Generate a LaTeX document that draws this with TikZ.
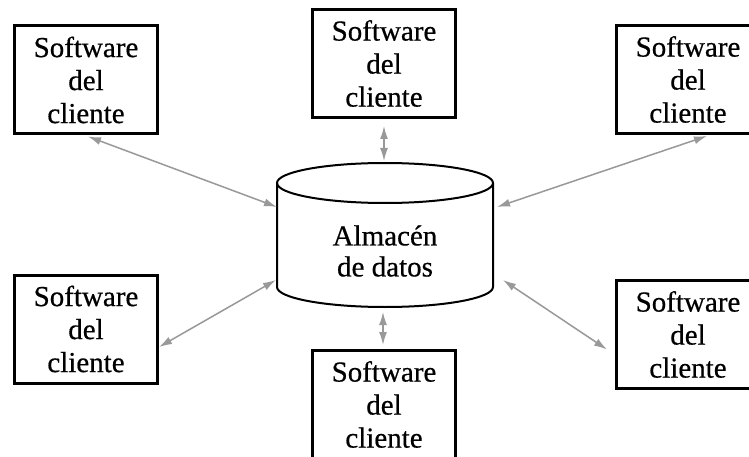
\documentclass[tikz,border=0pt]{standalone}
\usepackage{fontspec}
\setmainfont[FakeBold=0.5]{Liberation Serif}
\usetikzlibrary{arrows.meta}
\begin{document}
\begin{tikzpicture}[x=1pt,y=-1pt,
  client/.style={draw, line width=3pt, minimum width=143pt, minimum height=108pt,
    inner sep=0pt, align=center, font=\fontsize{29}{33}\selectfont},
  storetext/.style={inner sep=0pt, align=center, font=\fontsize{29}{31}\selectfont},
  cyl/.style={line width=2pt},
  link/.style={draw=gray!80, line width=1.5pt,
    {Latex[length=13pt,width=8pt]}-{Latex[length=13pt,width=8pt]}}]
  \useasboundingbox (0,0) rectangle (749,457);
  \clip (0,0) rectangle (749,457);
  \fill[white] (0,0) rectangle (749,457);

  % client boxes
  \node[client] (tl) at (86,80) {Software\\del\\cliente};
  \node[client] (tc) at (384,63.5) {Software\\del\\cliente};
  \node[client] (tr) at (688,79.5) {Software\\del\\cliente};
  \node[client] (ml) at (86,329) {Software\\del\\cliente};
  \node[client] (bc) at (384,404.5) {Software\\del\\cliente};
  \node[client] (br) at (688,334.5) {Software\\del\\cliente};

  % data store cylinder
  \draw[cyl] (385,183) ellipse [x radius=108pt, y radius=20pt];
  \draw[cyl] (277,183) -- (277,287)
    arc [start angle=180, end angle=360, x radius=108pt, y radius=20pt] -- (493,183);
  \node[storetext] (store) at (385,251) {Almacén\\de datos};

  % attachment points on the cylinder
  \coordinate (s-tl) at (277,207);
  \coordinate (s-tc) at (384,161);
  \coordinate (s-tr) at (497,207);
  \coordinate (s-ml) at (276,280);
  \coordinate (s-bc) at (383,312);
  \coordinate (s-br) at (503,280);

  % connectors
  \draw[link] ([xshift=2pt,yshift=-1pt]tl.south) -- (s-tl);
  \draw[link] ([yshift=-7pt]tc.south) -- (s-tc);
  \draw[link] ([xshift=19pt,yshift=-1pt]tr.south) -- (s-tr);
  \draw[link] ([yshift=-18pt]ml.east) -- (s-ml);
  \draw[link] ([xshift=-1pt,yshift=4pt]bc.north) -- (s-bc);
  \draw[link] ([xshift=-8pt,yshift=-15pt]br.west) -- (s-br);
\end{tikzpicture}
\end{document}
